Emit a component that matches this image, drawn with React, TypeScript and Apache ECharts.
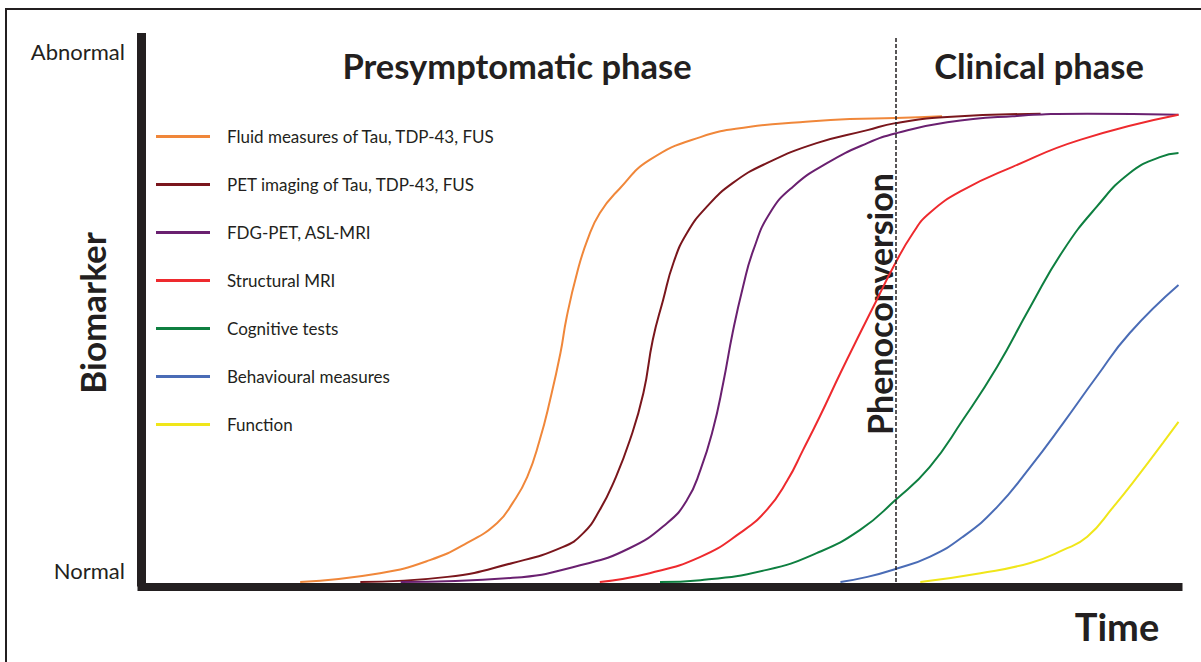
import React, { useEffect, useRef } from "react";
import * as echarts from "echarts";

// Time (0-100) and biomarker level (0 = normal, ~100 = abnormal)
const SERIES_NAMES = [
  "Fluid measures of Tau, TDP-43, FUS",
  "PET imaging of Tau, TDP-43, FUS",
  "FDG-PET, ASL-MRI",
  "Structural MRI",
  "Cognitive tests",
  "Behavioural measures",
  "Function",
];

const SERIES_COLORS = ["#f0873a", "#7a161c", "#6a2070", "#ee2a2e", "#0e7f40", "#4a6cb6", "#f0e61a"];

const fluid: [number, number][] = [
  [15.3, 0], [23.0, 1.9], [27.8, 4.7], [31.4, 8.4], [34.3, 12.7], [35.8, 17.0], [37.2, 22.6],
  [38.4, 30.5], [39.4, 39.1], [40.4, 49.2], [41.0, 56.9], [42.0, 66.4], [43.0, 73.5],
  [44.2, 79.3], [46.1, 84.5], [49.0, 90.7], [53.9, 95.6], [58.7, 97.8], [63.5, 98.8],
  [68.3, 99.5], [72.7, 99.7], [77.2, 100.1],
];

const pet: [number, number][] = [
  [21.1, 0], [29.5, 1.1], [35.8, 4.1], [40.6, 7.5], [42.6, 10.5], [44.2, 15.5], [45.6, 21.8],
  [47.1, 30.5], [48.4, 40.6], [49.3, 52.0], [50.3, 60.6], [51.3, 68.6], [52.6, 75.0],
  [54.5, 80.6], [57.0, 85.7], [60.3, 90.0], [65.1, 94.3], [70.0, 97.1], [72.7, 98.6],
  [77.7, 99.9], [86.7, 100.6],
];

const fdg: [number, number][] = [
  [25.0, 0], [35.8, 0.9], [42.3, 3.6], [47.0, 7.2], [50.7, 12.7], [52.6, 17.6], [53.9, 24.1],
  [55.1, 32.7], [56.1, 42.8], [57.0, 53.5], [58.0, 63.4], [59.0, 71.3], [60.6, 79.3],
  [62.8, 84.9], [66.1, 90.0], [70.0, 94.3], [72.9, 96.5], [77.7, 98.8], [84.0, 100.1],
  [91.2, 100.6], [100, 100.4],
];

const structural: [number, number][] = [
  [44.2, 0], [49.0, 1.9], [53.9, 5.4], [57.7, 10.5], [60.3, 15.5], [62.3, 21.9], [63.8, 28.4],
  [65.4, 35.5], [67.4, 44.9], [69.3, 53.5], [70.9, 60.6], [72.5, 67.7], [74.4, 75.0],
  [76.0, 79.3], [79.2, 84.2], [84.0, 89.2], [90.5, 95.0], [100, 100.4],
];

const cognitive: [number, number][] = [
  [50.0, 0], [53.9, 0.4], [60.3, 2.6], [65.1, 6.2], [69.3, 11.2], [72.7, 17.6], [76.0, 24.7],
  [79.2, 34.8], [82.5, 46.2], [85.7, 59.1], [88.9, 71.3], [92.1, 80.6], [95.3, 87.9],
  [98.2, 91.3], [100, 92.2],
];

const behavioural: [number, number][] = [
  [67.4, 0], [70.0, 1.1], [72.7, 2.8], [76.0, 5.4], [79.2, 9.7], [82.5, 16.1], [85.7, 24.7],
  [88.9, 34.2], [92.1, 44.1], [95.3, 53.5], [100, 63.8],
];

const functionData: [number, number][] = [
  [75.1, 0], [80.9, 1.9], [85.7, 4.1], [88.9, 6.9], [91.2, 9.7], [93.7, 16.1], [96.3, 23.4],
  [98.5, 29.9], [100, 34.4],
];

const SERIES_DATA = [fluid, pet, fdg, structural, cognitive, behavioural, functionData];

const PHENOCONVERSION_X = 72.7;
const X_MAX = 100;
const Y_MAX = 117;

const TEXT_COLOR = "#231f20";
const FONT = "Lato, 'Open Sans', sans-serif";

export default function App() {
  const ref = useRef<HTMLDivElement>(null);

  useEffect(() => {
    document.body.style.margin = "0";
    if (!ref.current) return;
    const chart = echarts.init(ref.current, undefined, { renderer: "svg" });

    const series: any[] = SERIES_NAMES.map((name, i) => ({
      name,
      type: "line",
      data: SERIES_DATA[i],
      smooth: 0.5,
      symbol: "none",
      color: SERIES_COLORS[i],
      lineStyle: { width: 2, color: SERIES_COLORS[i] },
      z: 3,
    }));

    series.push({
      name: "phenoconversion",
      type: "line",
      data: [],
      markLine: {
        silent: true,
        symbol: "none",
        label: { show: false },
        lineStyle: { color: TEXT_COLOR, type: [4, 2], width: 1.5 },
        data: [{ xAxis: PHENOCONVERSION_X }],
      },
      z: 2,
    });

    chart.setOption({
      animation: false,
      backgroundColor: "#ffffff",
      textStyle: { fontFamily: FONT },
      grid: { left: 141.5, right: 22.5, top: 37.5, bottom: 80, containLabel: false },
      xAxis: {
        type: "value",
        min: 0,
        max: X_MAX,
        offset: 4.5,
        axisLine: { show: true, onZero: false, lineStyle: { color: TEXT_COLOR, width: 8, cap: "square" } },
        axisTick: { show: false },
        axisLabel: { show: false },
        splitLine: { show: false },
      },
      yAxis: {
        type: "value",
        min: 0,
        max: Y_MAX,
        axisLine: { show: true, onZero: false, lineStyle: { color: TEXT_COLOR, width: 9, cap: "square" } },
        axisTick: { show: false },
        axisLabel: { show: false },
        splitLine: { show: false },
      },
      legend: {
        data: SERIES_NAMES,
        orient: "vertical",
        left: 156,
        top: 128,
        padding: 0,
        itemWidth: 54,
        itemHeight: 3,
        itemGap: 31,
        icon: "rect",
        selectedMode: false,
        textStyle: {
          fontFamily: FONT,
          fontSize: 17,
          lineHeight: 17,
          color: TEXT_COLOR,
          padding: [0, 0, 0, 12],
        },
      },
      graphic: [
        {
          type: "rect",
          silent: true,
          shape: { x: 6, y: 9, width: 1400, height: 800 },
          style: { fill: "none", stroke: TEXT_COLOR, lineWidth: 2 },
        },
        {
          type: "text",
          x: 125,
          y: 51,
          style: { text: "Abnormal", fontFamily: FONT, fontSize: 22, fill: TEXT_COLOR, textAlign: "right", textVerticalAlign: "middle" },
        },
        {
          type: "text",
          x: 125,
          y: 570,
          style: { text: "Normal", fontFamily: FONT, fontSize: 22, fill: TEXT_COLOR, textAlign: "right", textVerticalAlign: "middle" },
        },
        {
          type: "text",
          x: 517,
          y: 65,
          style: { text: "Presymptomatic phase", fontFamily: FONT, fontWeight: "bold", fontSize: 34.5, fill: TEXT_COLOR, textAlign: "center", textVerticalAlign: "middle" },
        },
        {
          type: "text",
          x: 1039,
          y: 65,
          style: { text: "Clinical phase", fontFamily: FONT, fontWeight: "bold", fontSize: 34.5, fill: TEXT_COLOR, textAlign: "center", textVerticalAlign: "middle" },
        },
        {
          type: "text",
          x: 1117,
          y: 626,
          style: { text: "Time", fontFamily: FONT, fontWeight: "bold", fontSize: 38, fill: TEXT_COLOR, textAlign: "center", textVerticalAlign: "middle" },
        },
        {
          type: "text",
          x: 92,
          y: 313,
          rotation: Math.PI / 2,
          style: { text: "Biomarker", fontFamily: FONT, fontWeight: "bold", fontSize: 35, fill: TEXT_COLOR, textAlign: "center", textVerticalAlign: "middle" },
        },
        {
          type: "text",
          x: 879,
          y: 304,
          rotation: Math.PI / 2,
          style: { text: "Phenoconversion", fontFamily: FONT, fontWeight: "bold", fontSize: 34, fill: TEXT_COLOR, textAlign: "center", textVerticalAlign: "middle" },
        },
      ],
      series,
    });

    return () => chart.dispose();
  }, []);

  return <div ref={ref} style={{ width: 1201, height: 662 }} />;
}
